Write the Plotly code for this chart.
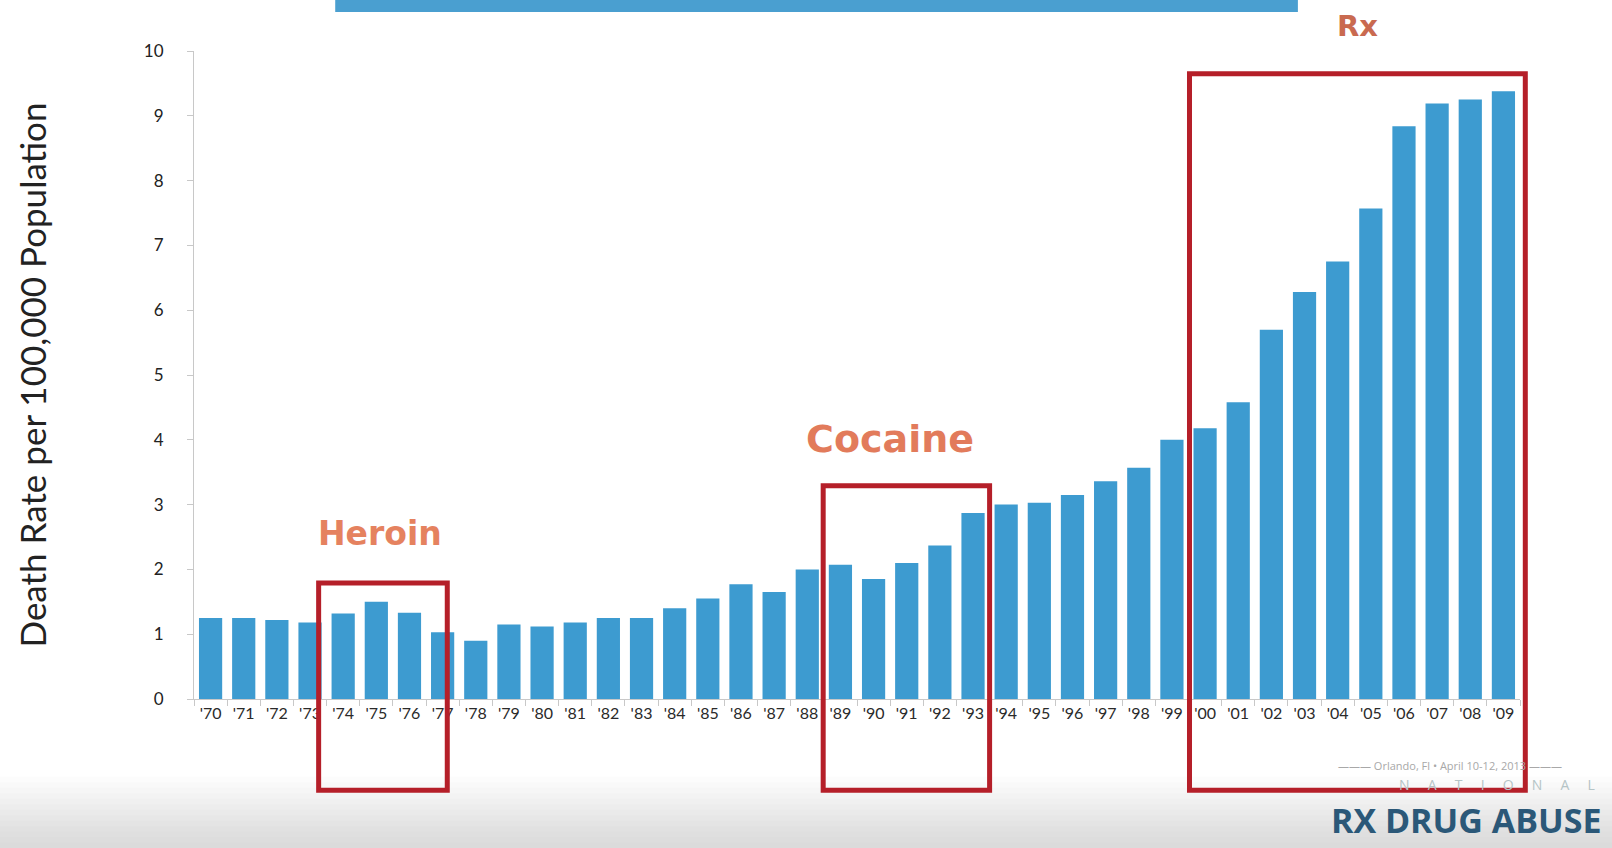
import plotly.graph_objects as go

# Drug overdose death rate per 100,000 population, 1970-2009
years = list(range(1970, 2010))
rates = [1.25, 1.25, 1.22, 1.18, 1.32, 1.50, 1.33, 1.03, 0.90, 1.15,
         1.12, 1.18, 1.25, 1.25, 1.40, 1.55, 1.77, 1.65, 2.00, 2.07,
         1.85, 2.10, 2.37, 2.87, 3.00, 3.03, 3.15, 3.36, 3.57, 4.00,
         4.18, 4.58, 5.70, 6.28, 6.75, 7.57, 8.84, 9.19, 9.25, 9.38]
tick_labels = ["'" + str(y)[2:] for y in years]
y_ticks = list(range(0, 11))

# Highlighted eras: (label, x0, x1, box top, label x, label y, font size, colour)
eras = [
    ("Heroin", 3.26, 7.14, 1.79, 5.1, 2.55, 33, "#e5825f"),
    ("Cocaine", 18.48, 23.5, 3.29, 20.5, 4.02, 38, "#e27b5b"),
    ("Rx", 29.53, 39.66, 9.65, 34.6, 10.38, 29, "#c96a50"),
]

BAR = "#3d9bd0"
BOX = "#b51f29"

N = len(years)
x_idx = list(range(N))
Y_MAX = 10.0


def px(i):
    """category index -> paper x"""
    return (i + 0.5) / N


def py(v):
    """data value -> paper y"""
    return v / Y_MAX


fig = go.Figure(go.Bar(
    x=x_idx, y=rates, marker=dict(color=BAR, line=dict(width=0)),
    width=0.7, hoverinfo="skip",
))

shapes = []
# soft grey shading along the bottom of the slide
steps = 14
for k in range(steps):
    top = -0.12 - 0.0085 * k
    shapes.append(dict(type="rect", xref="paper", yref="paper",
                       x0=-0.2, x1=1.1, y0=-0.24, y1=top,
                       fillcolor="#a0a0a0", opacity=0.035, line=dict(width=0),
                       layer="below"))
# banner strip at the top
shapes.append(dict(type="rect", xref="paper", yref="paper", x0=px(3.76), x1=px(32.8),
                   y0=py(10.6), y1=py(11.0), fillcolor="#4a9fd0", line=dict(width=0)))

annotations = []
for name, x0, x1, top, lx, ly, fs, col in eras:
    shapes.append(dict(type="rect", xref="paper", yref="paper", x0=px(x0), x1=px(x1),
                       y0=py(-1.41), y1=py(top), line=dict(color=BOX, width=5),
                       fillcolor="rgba(0,0,0,0)"))
    annotations.append(dict(x=px(lx), y=py(ly), xref="paper", yref="paper",
                            xanchor="center", yanchor="middle",
                            text="<b>" + name + "</b>", showarrow=False,
                            font=dict(family="DejaVu Sans, sans-serif", size=fs, color=col)))

annotations += [
    dict(x=px(37.4), y=py(-1.03), xref="paper", yref="paper", showarrow=False,
         xanchor="center", yanchor="middle",
         text="\u2014\u2014\u2014 Orlando, Fl \u2022 April 10-12, 2013 \u2014\u2014\u2014",
         font=dict(family="Open Sans, sans-serif", size=11, color="#a8a8a8")),
    dict(x=1.063, y=-0.226, xref="paper", yref="paper", showarrow=False,
         xanchor="right", yanchor="bottom",
         text="<b>RX DRUG ABUSE</b>",
         font=dict(family="Open Sans, sans-serif", size=34, color="#2b5878")),
    dict(x=1.058, y=-0.149, xref="paper", yref="paper", showarrow=False,
         xanchor="right", yanchor="bottom",
         text="N&nbsp;&nbsp;&nbsp;&nbsp;&nbsp;A&nbsp;&nbsp;&nbsp;&nbsp;&nbsp;T&nbsp;&nbsp;&nbsp;&nbsp;&nbsp;I&nbsp;&nbsp;&nbsp;&nbsp;&nbsp;O&nbsp;&nbsp;&nbsp;&nbsp;&nbsp;N&nbsp;&nbsp;&nbsp;&nbsp;&nbsp;A&nbsp;&nbsp;&nbsp;&nbsp;&nbsp;L",
         font=dict(family="Open Sans, sans-serif", size=14, color="#b5c4c6")),
]

fig.update_layout(
    width=1612, height=848,
    margin=dict(l=194, r=92, t=51, b=149),
    paper_bgcolor="white", plot_bgcolor="white",
    showlegend=False,
    bargap=0.3,
    shapes=shapes,
    annotations=annotations,
    font=dict(family="Lato, Open Sans, sans-serif", color="#222222"),
    xaxis=dict(
        range=[-0.5, N - 0.5], tickmode="array", tickvals=x_idx, ticktext=tick_labels,
        ticks="", showgrid=False, zeroline=False,
        showline=True, linecolor="#c8c8c8", linewidth=1,
        tickfont=dict(size=16, color="#2a2a2a"),
        minor=dict(ticks="outside", tickvals=[i - 0.5 for i in range(N + 1)],
                   ticklen=6, tickcolor="#c8c8c8"),
        fixedrange=True,
    ),
    yaxis=dict(
        range=[0, Y_MAX], tickmode="array", tickvals=y_ticks,
        ticks="outside", ticklen=6, tickcolor="#c8c8c8",
        showgrid=False, zeroline=False,
        showline=True, linecolor="#c8c8c8", linewidth=1,
        tickfont=dict(size=17, color="#222222"),
        ticklabelstandoff=20,
        title=dict(text="Death Rate per 100,000 Population", standoff=86,
                   font=dict(size=35, color="#222222")),
        fixedrange=True,
    ),
)

fig.write_html("out.html")
